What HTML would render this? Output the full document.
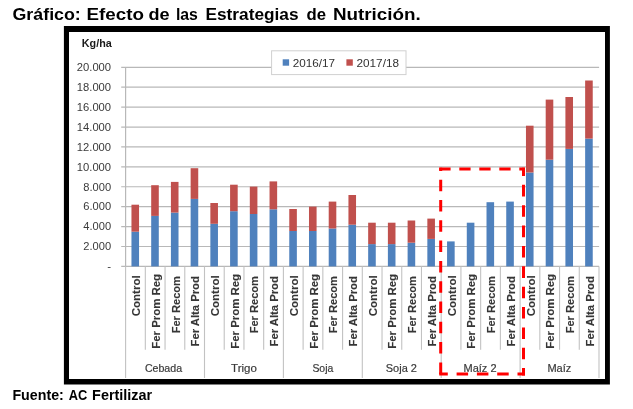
<!DOCTYPE html>
<html lang="es"><head><meta charset="utf-8"><title>Gráfico: Efecto de las Estrategias de Nutrición</title>
<style>html,body{margin:0;padding:0;background:#fff}svg{display:block}text{font-family:"Liberation Sans",sans-serif}</style>
</head><body>
<svg width="633" height="409" viewBox="0 0 633 409">
<rect width="633" height="409" fill="#fff"/>
<g font-weight="bold" font-size="16" fill="#000">
<text x="12.5" y="20.1" textLength="68.3" lengthAdjust="spacingAndGlyphs">Gráfico:</text>
<text x="86.6" y="20.1" textLength="57.4" lengthAdjust="spacingAndGlyphs">Efecto</text>
<text x="148.5" y="20.1" textLength="21.1" lengthAdjust="spacingAndGlyphs">de</text>
<text x="175.9" y="20.1" textLength="22.0" lengthAdjust="spacingAndGlyphs">las</text>
<text x="205.5" y="20.1" textLength="93.0" lengthAdjust="spacingAndGlyphs">Estrategias</text>
<text x="306.6" y="20.1" textLength="19.5" lengthAdjust="spacingAndGlyphs">de</text>
<text x="332.9" y="20.1" textLength="87.9" lengthAdjust="spacingAndGlyphs">Nutrición.</text>
</g>
<g font-weight="bold" font-size="14.1" fill="#000">
<text x="12.4" y="399.6" textLength="51.4" lengthAdjust="spacingAndGlyphs">Fuente:</text>
<text x="68.8" y="399.6" textLength="18.5" lengthAdjust="spacingAndGlyphs">AC</text>
<text x="92.1" y="399.6" textLength="60.1" lengthAdjust="spacingAndGlyphs">Fertilizar</text>
</g>
<path fill="#000" fill-rule="evenodd" d="M63.9 26.1H609.9V384.4H63.9Z M69 32H605V378.9H69Z"/>
<g stroke="#b8b8b8" stroke-width="1.2" fill="none">
<line x1="121.2" y1="266.40" x2="599.1" y2="266.40"/>
<line x1="121.2" y1="246.49" x2="599.1" y2="246.49"/>
<line x1="121.2" y1="226.58" x2="599.1" y2="226.58"/>
<line x1="121.2" y1="206.67" x2="599.1" y2="206.67"/>
<line x1="121.2" y1="186.76" x2="599.1" y2="186.76"/>
<line x1="121.2" y1="166.85" x2="599.1" y2="166.85"/>
<line x1="121.2" y1="146.94" x2="599.1" y2="146.94"/>
<line x1="121.2" y1="127.03" x2="599.1" y2="127.03"/>
<line x1="121.2" y1="107.12" x2="599.1" y2="107.12"/>
<line x1="121.2" y1="87.21" x2="599.1" y2="87.21"/>
<line x1="121.2" y1="67.30" x2="599.1" y2="67.30"/>
<line x1="125.6" y1="67.3" x2="125.6" y2="266.4"/>
</g>
<g stroke="#c2c2c2" stroke-width="1.1" fill="none">
<line x1="125.60" y1="266.4" x2="125.60" y2="378"/>
<line x1="145.32" y1="266.4" x2="145.32" y2="349.8"/>
<line x1="165.05" y1="266.4" x2="165.05" y2="349.8"/>
<line x1="184.78" y1="266.4" x2="184.78" y2="349.8"/>
<line x1="204.50" y1="266.4" x2="204.50" y2="378"/>
<line x1="224.22" y1="266.4" x2="224.22" y2="349.8"/>
<line x1="243.95" y1="266.4" x2="243.95" y2="349.8"/>
<line x1="263.68" y1="266.4" x2="263.68" y2="349.8"/>
<line x1="283.40" y1="266.4" x2="283.40" y2="378"/>
<line x1="303.12" y1="266.4" x2="303.12" y2="349.8"/>
<line x1="322.85" y1="266.4" x2="322.85" y2="349.8"/>
<line x1="342.58" y1="266.4" x2="342.58" y2="349.8"/>
<line x1="362.30" y1="266.4" x2="362.30" y2="378"/>
<line x1="382.02" y1="266.4" x2="382.02" y2="349.8"/>
<line x1="401.75" y1="266.4" x2="401.75" y2="349.8"/>
<line x1="421.48" y1="266.4" x2="421.48" y2="349.8"/>
<line x1="441.20" y1="266.4" x2="441.20" y2="378"/>
<line x1="460.93" y1="266.4" x2="460.93" y2="349.8"/>
<line x1="480.65" y1="266.4" x2="480.65" y2="349.8"/>
<line x1="500.38" y1="266.4" x2="500.38" y2="349.8"/>
<line x1="520.10" y1="266.4" x2="520.10" y2="378"/>
<line x1="539.83" y1="266.4" x2="539.83" y2="349.8"/>
<line x1="559.55" y1="266.4" x2="559.55" y2="349.8"/>
<line x1="579.27" y1="266.4" x2="579.27" y2="349.8"/>
<line x1="599.00" y1="266.4" x2="599.00" y2="378"/>
</g>
<rect x="271.6" y="50.8" width="134.4" height="23.8" fill="#fff" stroke="#d0d0d0" stroke-width="1"/>
<rect x="282.7" y="59.3" width="6.4" height="6.4" fill="#4f81bd"/>
<rect x="346.4" y="59.3" width="6.4" height="6.4" fill="#c0504d"/>
<g font-size="11.8" fill="#333">
<text x="292.7" y="66.8" textLength="42.3" lengthAdjust="spacingAndGlyphs">2016/17</text>
<text x="356.5" y="66.8" textLength="42.5" lengthAdjust="spacingAndGlyphs">2017/18</text>
</g>
<rect x="131.46" y="231.7" width="7.6" height="34.70" fill="#4f81bd"/>
<rect x="131.46" y="204.7" width="7.6" height="27.00" fill="#c0504d"/>
<rect x="151.19" y="215.9" width="7.6" height="50.50" fill="#4f81bd"/>
<rect x="151.19" y="185.2" width="7.6" height="30.70" fill="#c0504d"/>
<rect x="170.91" y="212.6" width="7.6" height="53.80" fill="#4f81bd"/>
<rect x="170.91" y="181.9" width="7.6" height="30.70" fill="#c0504d"/>
<rect x="190.64" y="198.9" width="7.6" height="67.50" fill="#4f81bd"/>
<rect x="190.64" y="168.2" width="7.6" height="30.70" fill="#c0504d"/>
<rect x="210.36" y="223.8" width="7.6" height="42.60" fill="#4f81bd"/>
<rect x="210.36" y="203.0" width="7.6" height="20.80" fill="#c0504d"/>
<rect x="230.09" y="211.2" width="7.6" height="55.20" fill="#4f81bd"/>
<rect x="230.09" y="184.7" width="7.6" height="26.50" fill="#c0504d"/>
<rect x="249.81" y="214.0" width="7.6" height="52.40" fill="#4f81bd"/>
<rect x="249.81" y="186.6" width="7.6" height="27.40" fill="#c0504d"/>
<rect x="269.54" y="209.3" width="7.6" height="57.10" fill="#4f81bd"/>
<rect x="269.54" y="181.4" width="7.6" height="27.90" fill="#c0504d"/>
<rect x="289.26" y="231.0" width="7.6" height="35.40" fill="#4f81bd"/>
<rect x="289.26" y="209.0" width="7.6" height="22.00" fill="#c0504d"/>
<rect x="308.99" y="231.0" width="7.6" height="35.40" fill="#4f81bd"/>
<rect x="308.99" y="206.6" width="7.6" height="24.40" fill="#c0504d"/>
<rect x="328.71" y="228.5" width="7.6" height="37.90" fill="#4f81bd"/>
<rect x="328.71" y="201.6" width="7.6" height="26.90" fill="#c0504d"/>
<rect x="348.44" y="224.7" width="7.6" height="41.70" fill="#4f81bd"/>
<rect x="348.44" y="195.0" width="7.6" height="29.70" fill="#c0504d"/>
<rect x="368.16" y="244.1" width="7.6" height="22.30" fill="#4f81bd"/>
<rect x="368.16" y="222.7" width="7.6" height="21.40" fill="#c0504d"/>
<rect x="387.89" y="244.1" width="7.6" height="22.30" fill="#4f81bd"/>
<rect x="387.89" y="222.7" width="7.6" height="21.40" fill="#c0504d"/>
<rect x="407.61" y="242.7" width="7.6" height="23.70" fill="#4f81bd"/>
<rect x="407.61" y="220.5" width="7.6" height="22.20" fill="#c0504d"/>
<rect x="427.34" y="238.9" width="7.6" height="27.50" fill="#4f81bd"/>
<rect x="427.34" y="218.6" width="7.6" height="20.30" fill="#c0504d"/>
<rect x="447.06" y="241.4" width="7.6" height="25.00" fill="#4f81bd"/>
<rect x="466.79" y="222.7" width="7.6" height="43.70" fill="#4f81bd"/>
<rect x="486.51" y="202.2" width="7.6" height="64.20" fill="#4f81bd"/>
<rect x="506.24" y="201.6" width="7.6" height="64.80" fill="#4f81bd"/>
<rect x="525.96" y="172.5" width="7.6" height="93.90" fill="#4f81bd"/>
<rect x="525.96" y="125.7" width="7.6" height="46.80" fill="#c0504d"/>
<rect x="545.69" y="159.7" width="7.6" height="106.70" fill="#4f81bd"/>
<rect x="545.69" y="99.6" width="7.6" height="60.10" fill="#c0504d"/>
<rect x="565.41" y="148.9" width="7.6" height="117.50" fill="#4f81bd"/>
<rect x="565.41" y="97.0" width="7.6" height="51.90" fill="#c0504d"/>
<rect x="585.14" y="138.6" width="7.6" height="127.80" fill="#4f81bd"/>
<rect x="585.14" y="80.5" width="7.6" height="58.10" fill="#c0504d"/>
<g font-size="11.5" fill="#3a3a3a" text-anchor="end">
<text x="111.8" y="47.3" font-weight="bold" font-size="11.6" fill="#1a1a1a" textLength="30" lengthAdjust="spacingAndGlyphs">Kg/ha</text>
<text x="111.1" y="270.30">-</text>
<text x="111.1" y="250.29" textLength="27.8" lengthAdjust="spacingAndGlyphs">2.000</text>
<text x="111.1" y="230.38" textLength="27.8" lengthAdjust="spacingAndGlyphs">4.000</text>
<text x="111.1" y="210.47" textLength="27.8" lengthAdjust="spacingAndGlyphs">6.000</text>
<text x="111.1" y="190.56" textLength="27.8" lengthAdjust="spacingAndGlyphs">8.000</text>
<text x="111.1" y="170.65" textLength="34.3" lengthAdjust="spacingAndGlyphs">10.000</text>
<text x="111.1" y="150.74" textLength="34.3" lengthAdjust="spacingAndGlyphs">12.000</text>
<text x="111.1" y="130.83" textLength="34.3" lengthAdjust="spacingAndGlyphs">14.000</text>
<text x="111.1" y="110.92" textLength="34.3" lengthAdjust="spacingAndGlyphs">16.000</text>
<text x="111.1" y="91.01" textLength="34.3" lengthAdjust="spacingAndGlyphs">18.000</text>
<text x="111.1" y="71.10" textLength="34.3" lengthAdjust="spacingAndGlyphs">20.000</text>
</g>
<g font-size="11" font-weight="bold" fill="#363636" stroke="#363636" stroke-width="0.12">
<text transform="translate(140.06,316.20) rotate(-90)" textLength="40.8" lengthAdjust="spacingAndGlyphs">Control</text>
<text transform="translate(159.79,348.70) rotate(-90)" textLength="74.8" lengthAdjust="spacingAndGlyphs">Fer Prom Reg</text>
<text transform="translate(179.51,333.30) rotate(-90)" textLength="57.2" lengthAdjust="spacingAndGlyphs">Fer Recom</text>
<text transform="translate(199.24,346.50) rotate(-90)" textLength="70.4" lengthAdjust="spacingAndGlyphs">Fer Alta Prod</text>
<text transform="translate(218.96,316.20) rotate(-90)" textLength="40.8" lengthAdjust="spacingAndGlyphs">Control</text>
<text transform="translate(238.69,348.70) rotate(-90)" textLength="74.8" lengthAdjust="spacingAndGlyphs">Fer Prom Reg</text>
<text transform="translate(258.41,333.30) rotate(-90)" textLength="57.2" lengthAdjust="spacingAndGlyphs">Fer Recom</text>
<text transform="translate(278.14,346.50) rotate(-90)" textLength="70.4" lengthAdjust="spacingAndGlyphs">Fer Alta Prod</text>
<text transform="translate(297.86,316.20) rotate(-90)" textLength="40.8" lengthAdjust="spacingAndGlyphs">Control</text>
<text transform="translate(317.59,348.70) rotate(-90)" textLength="74.8" lengthAdjust="spacingAndGlyphs">Fer Prom Reg</text>
<text transform="translate(337.31,333.30) rotate(-90)" textLength="57.2" lengthAdjust="spacingAndGlyphs">Fer Recom</text>
<text transform="translate(357.04,346.50) rotate(-90)" textLength="70.4" lengthAdjust="spacingAndGlyphs">Fer Alta Prod</text>
<text transform="translate(376.76,316.20) rotate(-90)" textLength="40.8" lengthAdjust="spacingAndGlyphs">Control</text>
<text transform="translate(396.49,348.70) rotate(-90)" textLength="74.8" lengthAdjust="spacingAndGlyphs">Fer Prom Reg</text>
<text transform="translate(416.21,333.30) rotate(-90)" textLength="57.2" lengthAdjust="spacingAndGlyphs">Fer Recom</text>
<text transform="translate(435.94,346.50) rotate(-90)" textLength="70.4" lengthAdjust="spacingAndGlyphs">Fer Alta Prod</text>
<text transform="translate(455.66,316.20) rotate(-90)" textLength="40.8" lengthAdjust="spacingAndGlyphs">Control</text>
<text transform="translate(475.39,348.70) rotate(-90)" textLength="74.8" lengthAdjust="spacingAndGlyphs">Fer Prom Reg</text>
<text transform="translate(495.11,333.30) rotate(-90)" textLength="57.2" lengthAdjust="spacingAndGlyphs">Fer Recom</text>
<text transform="translate(514.84,346.50) rotate(-90)" textLength="70.4" lengthAdjust="spacingAndGlyphs">Fer Alta Prod</text>
<text transform="translate(534.56,316.20) rotate(-90)" textLength="40.8" lengthAdjust="spacingAndGlyphs">Control</text>
<text transform="translate(554.29,348.70) rotate(-90)" textLength="74.8" lengthAdjust="spacingAndGlyphs">Fer Prom Reg</text>
<text transform="translate(574.01,333.30) rotate(-90)" textLength="57.2" lengthAdjust="spacingAndGlyphs">Fer Recom</text>
<text transform="translate(593.74,346.50) rotate(-90)" textLength="70.4" lengthAdjust="spacingAndGlyphs">Fer Alta Prod</text>
</g>
<g font-size="11.2" fill="#3a3a3a" stroke="#3a3a3a" stroke-width="0.2">
<text x="144.9" y="372" textLength="37.2" lengthAdjust="spacingAndGlyphs">Cebada</text>
<text x="231.1" y="372" textLength="25.8" lengthAdjust="spacingAndGlyphs">Trigo</text>
<text x="312.4" y="372" textLength="20.9" lengthAdjust="spacingAndGlyphs">Soja</text>
<text x="385.8" y="372" textLength="31.1" lengthAdjust="spacingAndGlyphs">Soja 2</text>
<text x="463.5" y="372" textLength="33.0" lengthAdjust="spacingAndGlyphs">Maíz 2</text>
<text x="547.4" y="372" textLength="23.9" lengthAdjust="spacingAndGlyphs">Maíz</text>
</g>
<g stroke="#ff0000" stroke-width="3" fill="none">
<line x1="439.3" y1="169.1" x2="525" y2="169.1" stroke-dasharray="11.3 8.7" stroke-dashoffset="0"/>
<line x1="439.2" y1="374" x2="525" y2="374" stroke-dasharray="11.5 8.8" stroke-dashoffset="2.9"/>
<line x1="440.7" y1="167.7" x2="440.7" y2="375.4" stroke-dasharray="11.5 8.8" stroke-dashoffset="8.3"/>
<line x1="523.5" y1="167.7" x2="523.5" y2="375.4" stroke-dasharray="11.6 8.76" stroke-dashoffset="3.2"/>
</g>
</svg>
</body></html>
